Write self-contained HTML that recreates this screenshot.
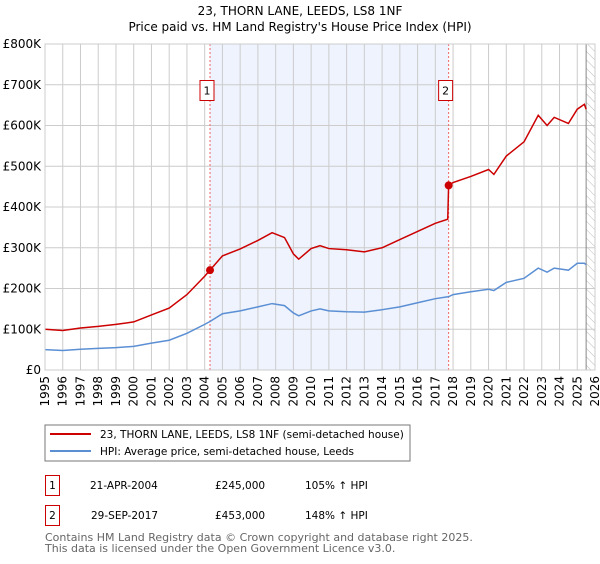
<!DOCTYPE html>
<html><head><meta charset="utf-8"><style>
body{margin:0;background:#fff;font-family:"DejaVu Sans","Liberation Sans",sans-serif;}
svg text{font-family:"DejaVu Sans","Liberation Sans",sans-serif;}
</style></head><body>
<svg id="chart" width="600" height="560" xmlns="http://www.w3.org/2000/svg">
<defs><pattern id="hatch" width="6" height="6" patternUnits="userSpaceOnUse" patternTransform="rotate(-45)"><line x1="0" y1="0" x2="0" y2="6" stroke="#bbb" stroke-width="1"/></pattern></defs>
<text x="300" y="15" text-anchor="middle" font-size="12">23, THORN LANE, LEEDS, LS8 1NF</text>
<text x="300" y="31" text-anchor="middle" font-size="12">Price paid vs. HM Land Registry's House Price Index (HPI)</text>
<g id="plot"></g>
<rect x="45" y="425" width="365" height="36" fill="#fff" stroke="#777"/>
<line x1="50" y1="434" x2="91" y2="434" stroke="#cc0000" stroke-width="2"/>
<text x="100" y="438" font-size="10.5">23, THORN LANE, LEEDS, LS8 1NF (semi-detached house)</text>
<line x1="50" y1="451" x2="91" y2="451" stroke="#5b8fd4" stroke-width="2"/>
<text x="100" y="455" font-size="10.5">HPI: Average price, semi-detached house, Leeds</text>
<g>
<rect x="45.5" y="475.5" width="14" height="20" fill="#fff" stroke="#cc0000"/>
<text x="52.5" y="489" text-anchor="middle" font-size="10.5">1</text>
<text x="90" y="489" font-size="10.5">21-APR-2004</text>
<text x="215" y="489" font-size="10.5">£245,000</text>
<text x="305" y="489" font-size="10.5">105% ↑ HPI</text></g>
<g>
<rect x="45.5" y="505.5" width="14" height="20" fill="#fff" stroke="#cc0000"/>
<text x="52.5" y="519" text-anchor="middle" font-size="10.5">2</text>
<text x="91" y="519" font-size="10.5">29-SEP-2017</text>
<text x="215" y="519" font-size="10.5">£453,000</text>
<text x="305" y="519" font-size="10.5">148% ↑ HPI</text></g>
<text x="45" y="541" font-size="11" fill="#666">Contains HM Land Registry data © Crown copyright and database right 2025.</text>
<text x="45" y="552" font-size="11" fill="#666">This data is licensed under the Open Government Licence v3.0.</text>
</svg>
<script>
const yTicks=[0,100,200,300,400,500,600,700,800];
const yTickLabels=["£0","£100K","£200K","£300K","£400K","£500K","£600K","£700K","£800K"];
const xYears=[1995,1996,1997,1998,1999,2000,2001,2002,2003,2004,2005,2006,2007,2008,2009,2010,2011,2012,2013,2014,2015,2016,2017,2018,2019,2020,2021,2022,2023,2024,2025,2026];
const hpiT=[1995,1996,1997,1998,1999,2000,2001,2002,2003,2004,2004.3,2005,2006,2007,2007.8,2008.5,2009,2009.3,2010,2010.5,2011,2012,2013,2014,2015,2016,2017,2017.75,2018,2019,2020,2020.3,2021,2022,2022.8,2023.3,2023.7,2024.5,2025,2025.4,2025.5];
const hpiV=[50,48,51,53,55,58,66,73,90,112,119,138,145,155,163,158,140,133,145,150,145,143,142,148,155,165,175,180,185,192,198,195,215,225,250,240,250,245,262,262,258];
const ppT=[1995,1996,1997,1998,1999,2000,2001,2002,2003,2004,2004.3,2005,2006,2007,2007.8,2008.5,2009,2009.3,2010,2010.5,2011,2012,2013,2014,2015,2016,2017,2017.7,2017.75,2018,2019,2020,2020.3,2021,2022,2022.8,2023.3,2023.7,2024.5,2025,2025.4,2025.5];
const ppV=[100,97,103,107,112,118,135,152,185,230,245,280,297,318,337,325,285,272,298,305,298,295,290,300,320,340,360,370,453,460,475,492,480,525,560,625,600,620,605,640,652,640];
const saleT=[2004.3,2017.75];
const saleV=[245,453];
const saleLabels=["1","2"];
const X0=45,X1=595,Y0=370,Y1=44;
const xs=t=>X0+(t-1995)*(X1-X0)/31;
const ys=v=>Y0-v*(Y0-Y1)/800;
const NS="http://www.w3.org/2000/svg";
const plot=document.getElementById('plot');
function mk(tag,attrs,parent){const e=document.createElementNS(NS,tag);for(const k in attrs)e.setAttribute(k,attrs[k]);(parent||plot).appendChild(e);return e;}
let r=mk('rect',{x:xs(saleT[0]),y:Y1,width:xs(saleT[1])-xs(saleT[0]),height:Y0-Y1,fill:'#eef3fd'});


r=mk('rect',{x:xs(2025.5),y:Y1,width:X1-xs(2025.5),height:Y0-Y1,fill:'url(#hatch)'});


xYears.forEach(y=>{const l=mk('line',{x1:xs(y),x2:xs(y),y1:Y1,y2:Y0,stroke:'#ccc'});


const t=mk('text',{x:0,y:0,'font-size':12,'text-anchor':'end',transform:`translate(${xs(y)+4},${Y0+6}) rotate(-90)`});t.textContent=y;

});
yTicks.forEach((v,i)=>{const l=mk('line',{x1:X0,x2:X1,y1:ys(v),y2:ys(v),stroke:'#ccc'});


const t=mk('text',{x:X0-4,y:ys(v)+4,'font-size':12,'text-anchor':'end'});t.textContent=yTickLabels[i];

});
let vl=mk('line',{x1:xs(2025.5),x2:xs(2025.5),y1:Y1,y2:Y0,stroke:'#888'});


saleT.forEach((t,i)=>{const l=mk('line',{x1:xs(t),x2:xs(t),y1:Y1,y2:Y0,stroke:'#e66','stroke-dasharray':'2,2'});

});
let p=mk('polyline',{points:hpiT.map((t,i)=>xs(t)+','+ys(hpiV[i])).join(' '),fill:'none',stroke:'#5b8fd4','stroke-width':1.5});


p=mk('polyline',{points:ppT.map((t,i)=>xs(t)+','+ys(ppV[i])).join(' '),fill:'none',stroke:'#cc0000','stroke-width':1.5});


saleT.forEach((t,i)=>{const c=mk('circle',{cx:xs(t),cy:ys(saleV[i]),r:4,fill:'#cc0000'});


const b=mk('rect',{x:xs(t)-10,y:80.5,width:14,height:20,fill:'#fff',stroke:'#cc0000'});


const tx=mk('text',{x:xs(t)-3,y:94.5,'font-size':11,'text-anchor':'middle'});tx.textContent=saleLabels[i];

});
r=mk('rect',{x:X0,y:Y1,width:X1-X0,height:Y0-Y1,fill:'none',stroke:'#ccc'});


</script>
</body></html>
